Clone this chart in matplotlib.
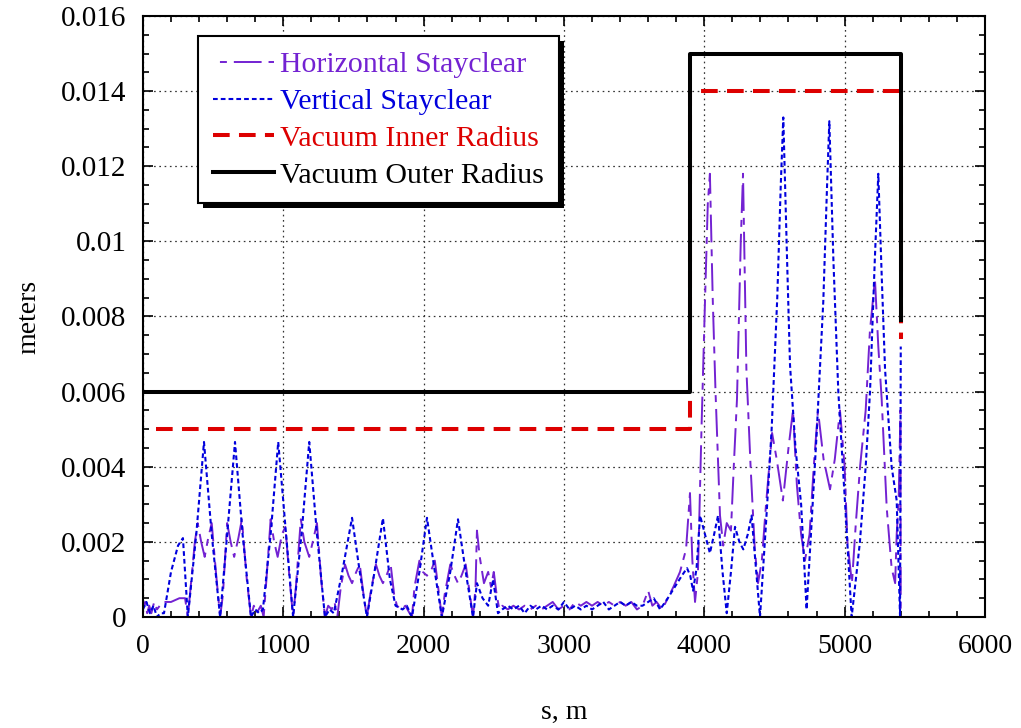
import matplotlib
matplotlib.use("Agg")
import matplotlib.pyplot as plt
from matplotlib.patches import Rectangle
from matplotlib.transforms import IdentityTransform
from matplotlib.ticker import MultipleLocator, FormatStrFormatter

plt.rcParams["font.family"] = ["Liberation Serif", "DejaVu Serif"]
plt.rcParams["lines.scale_dashes"] = False

# ----- data -----
# horizontal stayclear
s_h = [0, 15, 30, 45, 60, 80, 100, 120, 140, 200, 260, 300, 320, 340, 370, 390, 415, 440, 465, 490, 520, 550,
       570, 600, 625, 650, 680, 705, 740, 770, 790, 810, 840, 860,
       880, 910, 935, 960, 990, 1015, 1045, 1070,
       1090, 1125, 1150, 1185, 1210, 1240, 1270, 1297, 1320, 1345, 1365,
       1385, 1410, 1440, 1465, 1490, 1520, 1545, 1575, 1596,
       1620, 1660, 1685, 1710, 1735, 1765, 1790, 1810, 1840, 1870, 1900, 1917,
       1935, 1970, 1995, 2024, 2050, 2080, 2110, 2130,
       2150, 2190, 2220, 2245, 2270, 2300, 2330, 2352,
       2370, 2380, 2400, 2430, 2460, 2480, 2500, 2520, 2540,
       2560, 2600, 2640, 2680, 2720, 2760, 2800, 2840, 2880, 2920, 2960, 3000, 3040, 3080, 3120,
       3160, 3200, 3240, 3280, 3320, 3360, 3400, 3440, 3480, 3520, 3560, 3600, 3630, 3660, 3700,
       3740, 3780, 3827, 3870, 3898, 3915, 3934, 3955, 3980, 4005, 4025, 4040, 4060, 4080,
       4112, 4135, 4160, 4190, 4210, 4233, 4260, 4276, 4300, 4330, 4360, 4383, 4410, 4440,
       4483, 4516, 4560, 4600, 4632, 4660, 4690, 4717, 4750, 4780, 4810, 4850, 4896, 4930,
       4967, 5000, 5020, 5052, 5080, 5110, 5150, 5180, 5216, 5240, 5264, 5300, 5335, 5360,
       5371, 5385, 5398, 5400]
h_stay = [0.0001, 0.0004, 0.0001, 0.0003, 0.0001, 0.0004, 0.0002, 0.0003, 0.0004, 0.0004, 0.0005, 0.0005, 0.0,
          0.0008, 0.0020, 0.0025, 0.0020, 0.0016, 0.0021, 0.0025, 0.0012, 0.0,
          0.0006, 0.0025, 0.0020, 0.0016, 0.0021, 0.0026, 0.0010, 0.0, 0.0003, 0.0001, 0.0003, 0.0,
          0.0010, 0.0026, 0.0020, 0.0016, 0.0022, 0.0024, 0.0010, 0.0,
          0.0008, 0.0026, 0.0020, 0.0016, 0.0020, 0.0025, 0.0010, 0.0, 0.0003, 0.0002, 0.0004,
          0.0, 0.0008, 0.0014, 0.0011, 0.0009, 0.0012, 0.0014, 0.0005, 0.0,
          0.0006, 0.0014, 0.0011, 0.0009, 0.0011, 0.0014, 0.0006, 0.0003, 0.0002, 0.0003, 0.0001, 0.0,
          0.0008, 0.0015, 0.0012, 0.0011, 0.0012, 0.0015, 0.0006, 0.0,
          0.0006, 0.0014, 0.0011, 0.0009, 0.0011, 0.0014, 0.0006, 0.0,
          0.0008, 0.0023, 0.0016, 0.0009, 0.0012, 0.0008, 0.0012, 0.0006, 0.0002,
          0.0003, 0.0002, 0.0003, 0.0002, 0.0003, 0.0002, 0.0003, 0.0002, 0.0003, 0.0004, 0.0002, 0.0003, 0.0002,
          0.0004, 0.0003, 0.0004, 0.0003, 0.0004, 0.0003, 0.0004, 0.0003, 0.0004, 0.0003, 0.0004, 0.0002, 0.0003,
          0.0007, 0.0003, 0.0004, 0.0002,
          0.0005, 0.0008, 0.0012, 0.0018, 0.0033, 0.0015, 0.0004, 0.0012, 0.0050, 0.0084, 0.0110, 0.0118, 0.0085,
          0.0060,
          0.0027, 0.0019, 0.0025, 0.0023, 0.0040, 0.0058, 0.0100, 0.0118, 0.0066, 0.0040, 0.0018, 0.0009, 0.0015,
          0.0030,
          0.0049, 0.0042, 0.0031, 0.0045, 0.0055, 0.0035, 0.0022, 0.0015, 0.0022, 0.0040, 0.0055, 0.0042, 0.0034,
          0.0042,
          0.0055, 0.0040, 0.0020, 0.0009, 0.0025, 0.0040, 0.0055, 0.0076, 0.0090, 0.0072, 0.0058, 0.0029, 0.0013,
          0.0009,
          0.0022, 0.0031, 0.0055, 0.0]

# vertical stayclear
s_v = [0, 25, 50, 75, 100, 125, 150, 200, 250, 285, 300, 320, 380, 435, 490, 550, 600, 656, 710, 770, 800, 830,
       855, 910, 964, 1020, 1070, 1130, 1185, 1240, 1297, 1330, 1360, 1420, 1490, 1545, 1596, 1650, 1710, 1760,
       1800, 1850, 1880, 1917, 1970, 2024, 2080, 2130, 2190, 2245, 2300, 2352, 2380, 2420, 2460, 2495, 2530,
       2560, 2600, 2640, 2680, 2720, 2760, 2800, 2840, 2880, 2920, 2960, 3000, 3040, 3080, 3120,
       3160, 3200, 3240, 3280, 3320, 3360, 3400, 3440, 3480, 3520, 3560, 3600, 3640, 3685,
       3740, 3790, 3840, 3877, 3900, 3920, 3945, 3970, 4005, 4040, 4070, 4098, 4130, 4160, 4190, 4219, 4250,
       4278, 4310, 4337, 4370, 4397, 4440, 4480, 4520, 4545, 4563, 4590, 4611, 4650, 4690, 4729, 4760, 4801,
       4848, 4875, 4891, 4920, 4955, 5002, 5050, 5080, 5109, 5150, 5181, 5215, 5240, 5265, 5288, 5335, 5371,
       5395, 5400]
v_stay = [0.0002, 0.0004, 0.0001, 0.0003, 0.0, 0.0001, 0.0001, 0.0012, 0.0019, 0.0021, 0.0012, 0.0, 0.0022,
          0.00466, 0.0022, 0.0, 0.0022, 0.00466, 0.0022, 0.0, 0.0002, 0.0001, 0.0002, 0.0022, 0.00466, 0.0022,
          0.0, 0.0022, 0.00466, 0.0022, 0.0, 0.0002, 0.0001, 0.0012, 0.00264, 0.0012, 0.0, 0.0012, 0.00263,
          0.0010, 0.0003, 0.0002, 0.0003, 0.0, 0.0012, 0.00264, 0.0012, 0.0, 0.0012, 0.0026, 0.0012, 0.0,
          0.0009, 0.0005, 0.0003, 0.0010, 0.0001,
          0.0002, 0.0003, 0.0002, 0.0003, 0.0001, 0.0003, 0.0002, 0.0003, 0.0002, 0.0003, 0.0002, 0.0004,
          0.0002, 0.0003, 0.0002, 0.0003, 0.0002, 0.0003, 0.0004, 0.0002, 0.0003, 0.0004, 0.0003, 0.0004,
          0.0003, 0.0003, 0.0004, 0.0005, 0.0002,
          0.0005, 0.0008, 0.0011, 0.0013, 0.0011, 0.0007, 0.0013, 0.0027, 0.0022, 0.0017, 0.0022, 0.0027,
          0.0012, 0.0001, 0.0012, 0.0024, 0.0020, 0.0018, 0.0022, 0.0027, 0.0012, 0.0, 0.0025, 0.0050, 0.0085,
          0.0115, 0.0133, 0.0095, 0.0067, 0.0045, 0.0030, 0.0002, 0.0022, 0.0049, 0.0084, 0.0115, 0.0132,
          0.0095, 0.0060, 0.0031, 0.0, 0.0010, 0.0020, 0.0040, 0.0060, 0.0095, 0.0118, 0.0090, 0.0066, 0.0040,
          0.0031, 0.0, 0.0072]

# vacuum chamber radii (step profile)
s_inner = [90, 3900, 3900, 5400, 5400]
r_inner = [0.005, 0.005, 0.014, 0.014, 0.0074]
s_outer = [0, 3900, 3900, 5400, 5400]
r_outer = [0.006, 0.006, 0.015, 0.015, 0.0079]

purple = "#7322d2"
blue = "#0000dd"
red = "#dd0000"

fig = plt.figure(figsize=(10.21, 7.28), dpi=100)
ax = fig.add_axes([0.140, 0.1525, 0.8247, 0.8255])

ax.plot(s_h, h_stay, color=purple, lw=1.4, linestyle=(20, (20, 5, 5, 5)), label="Horizontal Stayclear")
ax.plot(s_v, v_stay, color=blue, lw=1.5, dashes=(3.4, 2.2), label="Vertical Stayclear")
ax.plot(s_inner, r_inner, color=red, lw=2.9, dashes=(12, 6.7), label="Vacuum Inner Radius")
ax.plot(s_outer, r_outer, color="black", lw=2.9, label="Vacuum Outer Radius")

ax.set_xlim(0, 6000)
ax.set_ylim(0, 0.016)
ax.xaxis.set_major_locator(MultipleLocator(1000))
ax.xaxis.set_minor_locator(MultipleLocator(200))
ax.yaxis.set_major_locator(MultipleLocator(0.002))
ax.yaxis.set_minor_locator(MultipleLocator(0.0005))
ax.yaxis.set_major_formatter(FormatStrFormatter("%g"))
ax.tick_params(which="both", direction="in", top=True, right=True, labelsize=20, width=1.2)
ax.tick_params(axis="y", labelsize=21)
ax.tick_params(which="major", length=7, pad=12)
ax.tick_params(which="minor", length=4)
for sp in ax.spines.values():
    sp.set_linewidth(1.5)
ax.grid(True, which="major", color="#333333", lw=0.9, linestyle=(0, (1.2, 2.6)))

ax.set_xlabel("s, m", fontsize=20, labelpad=30)
ax.set_ylabel("meters", fontsize=20, labelpad=14)

leg = ax.legend(loc="upper left", bbox_to_anchor=(0.065, 0.966), fontsize=21.5, labelcolor="linecolor",
                frameon=True, fancybox=False, shadow=False,
                handlelength=2.05, handletextpad=0.2, labelspacing=0.33, borderpad=0.5, borderaxespad=0)
leg.get_frame().set_edgecolor("black")
leg.get_frame().set_linewidth(1.5)
leg.get_frame().set_alpha(1.0)

# solid black drop shadow, offset a few pixels right/down
fig.canvas.draw()
bb = leg.get_window_extent()
shadow = Rectangle((bb.x0 + 5, bb.y0 - 5), bb.width, bb.height, facecolor="black", edgecolor="none",
                   transform=IdentityTransform(), zorder=4.9, clip_on=False)
ax.add_patch(shadow)

fig.savefig("out.png", dpi=100)
